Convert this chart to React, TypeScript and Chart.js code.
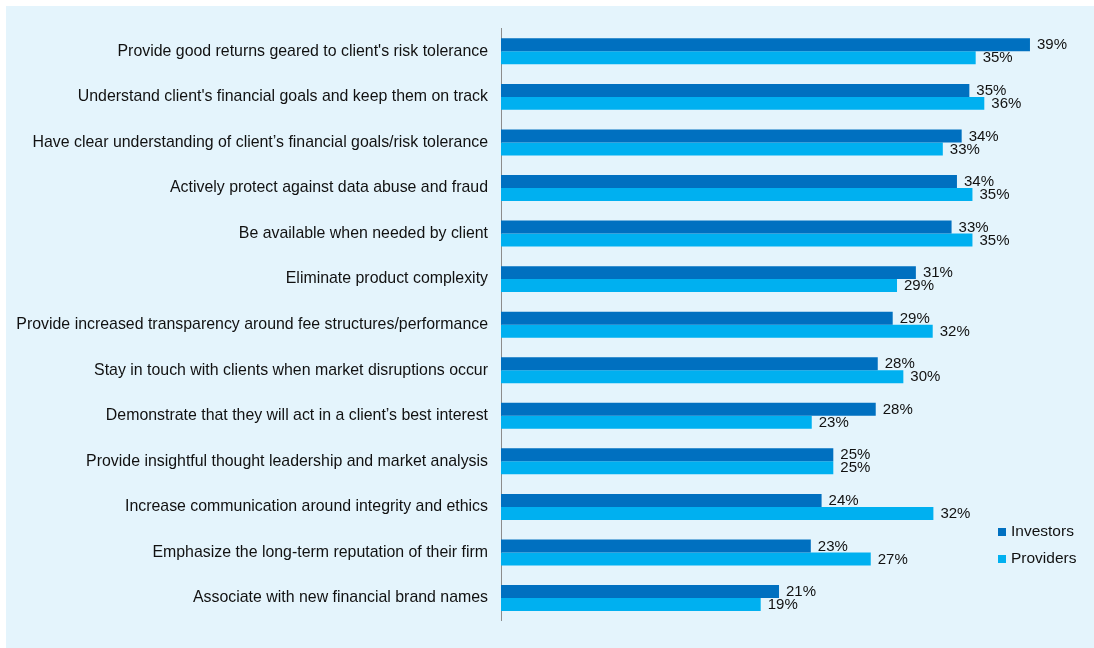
import React, { useEffect, useRef } from "react";
import { Chart, registerables } from "chart.js";

Chart.register(...registerables);

const categories = [
  "Provide good returns geared to client's risk tolerance",
  "Understand client's financial goals and keep them on track",
  "Have clear understanding of client\u2019s financial goals/risk tolerance",
  "Actively protect against data abuse and fraud",
  "Be available when needed by client",
  "Eliminate product complexity",
  "Provide increased transparency around fee structures/performance",
  "Stay in touch with clients when market disruptions occur",
  "Demonstrate that they will act in a client\u2019s best interest",
  "Provide insightful thought leadership and market analysis",
  "Increase communication around integrity and ethics",
  "Emphasize the long-term reputation of their firm",
  "Associate with new financial brand names",
];

const investors = [39.27, 34.77, 34.2, 33.85, 33.45, 30.8, 29.08, 27.97, 27.82, 24.67, 23.8, 23.0, 20.64];
const providers = [35.24, 35.88, 32.8, 35.0, 35.0, 29.4, 32.05, 29.87, 23.07, 24.67, 32.1, 27.45, 19.28];

const seriesNames = ["Investors", "Providers"];
const seriesColors = ["#0070C0", "#00B0F0"];

const FONT = "'Liberation Sans', Arial, sans-serif";

export default function App() {
  const ref = useRef<HTMLCanvasElement | null>(null);

  useEffect(() => {
    if (!ref.current) return;

    const valueLabels = {
      id: "valueLabels",
      afterDatasetsDraw(chart: any) {
        const ctx = chart.ctx;
        ctx.save();
        ctx.font = `15px ${FONT}`;
        ctx.fillStyle = "#111111";
        ctx.textAlign = "left";
        ctx.textBaseline = "middle";
        chart.data.datasets.forEach((ds: any, di: number) => {
          const meta = chart.getDatasetMeta(di);
          meta.data.forEach((bar: any, i: number) => {
            const v = ds.data[i];
            ctx.fillText(`${Math.round(v)}%`, bar.x + 7, bar.y + 0.5);
          });
        });
        ctx.restore();
      },
    };

    const customLegend = {
      id: "customLegend",
      afterDraw(chart: any) {
        const ctx = chart.ctx;
        ctx.save();
        ctx.font = `15.5px ${FONT}`;
        ctx.textAlign = "left";
        ctx.textBaseline = "middle";
        const baseY = [526, 553];
        seriesNames.forEach((name, i) => {
          ctx.fillStyle = seriesColors[i];
          ctx.fillRect(992, baseY[i] - 4, 8, 8);
          ctx.fillStyle = "#111111";
          ctx.fillText(name, 1005, baseY[i] - 0.5);
        });
        ctx.restore();
      },
    };

    const chart = new Chart(ref.current, {
      type: "bar",
      data: {
        labels: categories,
        datasets: [
          {
            label: seriesNames[0],
            data: investors,
            backgroundColor: seriesColors[0],
            borderWidth: 0,
            categoryPercentage: 0.57,
            barPercentage: 1.0,
          },
          {
            label: seriesNames[1],
            data: providers,
            backgroundColor: seriesColors[1],
            borderWidth: 0,
            categoryPercentage: 0.57,
            barPercentage: 1.0,
          },
        ],
      },
      options: {
        indexAxis: "y",
        responsive: false,
        animation: false,
        devicePixelRatio: 1,
        layout: { padding: { top: 21.2, bottom: 27.2, right: 54.2, left: 0 } },
        plugins: {
          legend: { display: false },
          tooltip: { enabled: false },
          title: { display: false },
        },
        scales: {
          x: {
            display: false,
            min: 0,
            max: 40,
          },
          y: {
            afterFit(scale: any) {
              scale.width = 495;
            },
            grid: { display: false, drawTicks: false },
            border: { display: true, color: "#8c8c8c", width: 1 },
            ticks: {
              padding: 13,
              color: "#111111",
              font: { family: FONT, size: 15.9 },
              autoSkip: false,
            },
          },
        },
      },
      plugins: [valueLabels, customLegend],
    });

    return () => chart.destroy();
  }, []);

  return (
    <div
      style={{
        position: "absolute",
        left: 6,
        top: 6,
        width: 1088,
        height: 642,
        background: "#e4f4fc",
      }}
    >
      <canvas ref={ref} width={1088} height={642} style={{ display: "block", width: 1088, height: 642 }} />
    </div>
  );
}
